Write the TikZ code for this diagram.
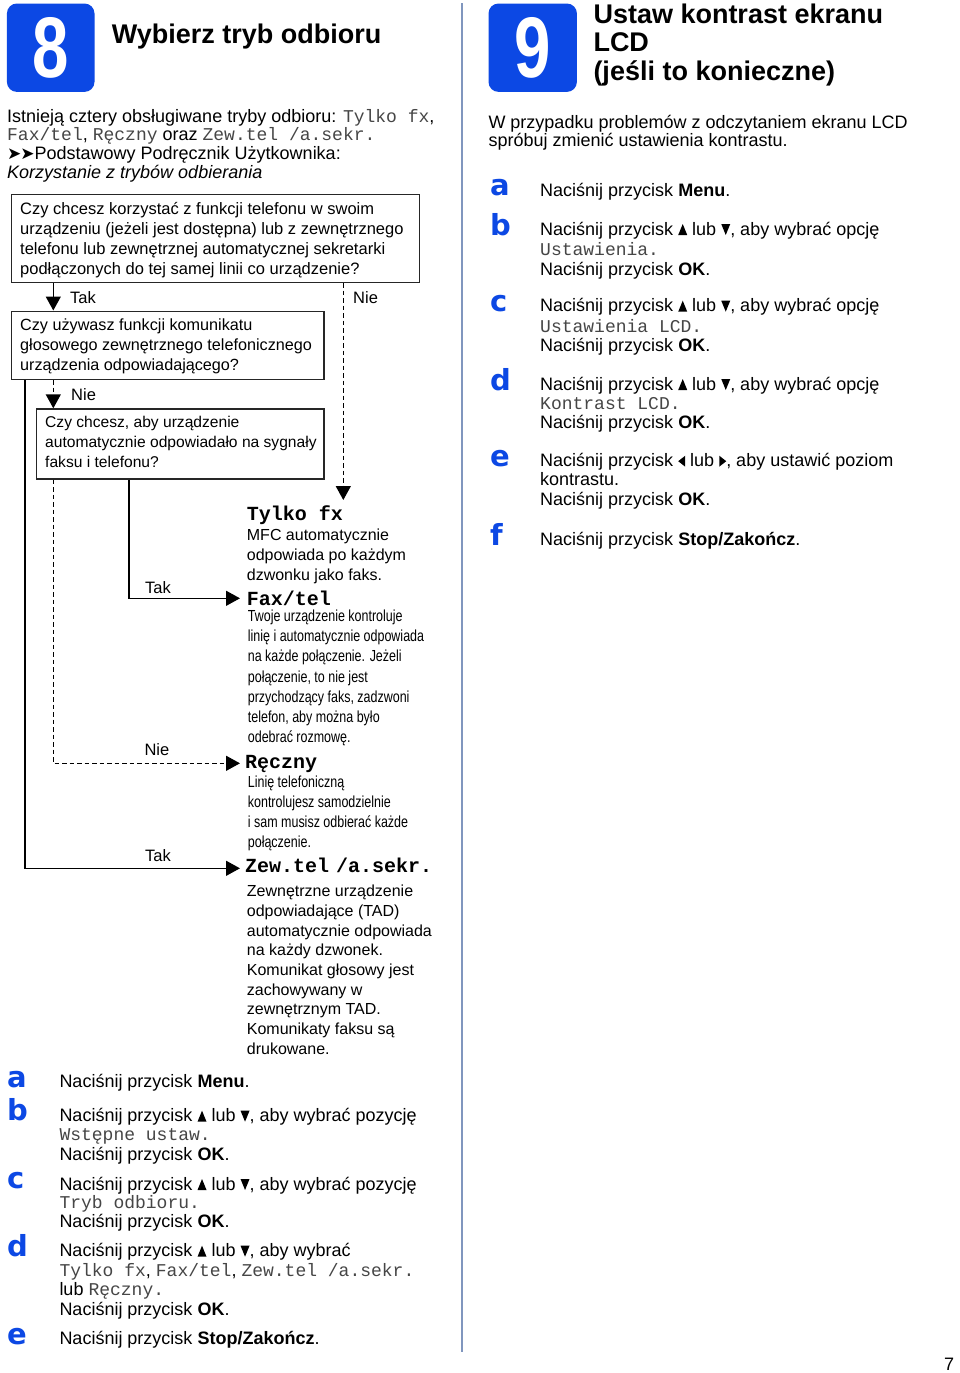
\documentclass[tikz,border=0pt]{standalone}
\usepackage{fontspec}
\usepackage{graphicx}
\setmainfont{Liberation Sans}
\setmonofont{Liberation Mono}
\newfontfamily\djv{DejaVu Sans}
\usetikzlibrary{arrows.meta}
\definecolor{brblue}{RGB}{12,72,228}
\definecolor{divc}{RGB}{128,150,190}
\definecolor{monoc}{RGB}{70,70,70}
\newcommand\mono[1]{{\ttfamily\color{monoc}#1}}
\newcommand\trUp{\tikz[x=1pt,y=1pt,baseline=0pt]\fill (0,0)--(9,0)--(4.5,11)--cycle;}
\newcommand\trDn{\tikz[x=1pt,y=1pt,baseline=0pt]\fill (0,11)--(9,11)--(4.5,0)--cycle;}
\newcommand\trLf{\tikz[x=1pt,y=1pt,baseline=0pt]\fill (7,0)--(7,11)--(0,5.5)--cycle;}
\newcommand\trRt{\tikz[x=1pt,y=1pt,baseline=0pt]\fill (0,0)--(0,11)--(7,5.5)--cycle;}
\newcommand\cond[1]{\scalebox{0.78}[1]{#1}}
\tikzset{
 t18/.style={inner sep=0pt, anchor=base west, font=\fontsize{18}{20}\selectfont},
 tq/.style={inner sep=0pt, anchor=base west, font=\fontsize{16.5}{20}\selectfont},
 tr/.style={inner sep=0pt, anchor=base west, font=\fontsize{16}{20}\selectfont},
 tc/.style={inner sep=0pt, anchor=base west, font=\fontsize{16}{20}\selectfont},
 thead/.style={inner sep=0pt, anchor=base west, font=\fontsize{20}{20}\selectfont\ttfamily\bfseries},
 ttl/.style={inner sep=0pt, anchor=base west, font=\fontsize{27}{29}\selectfont\bfseries},
 lett/.style={inner sep=0pt, anchor=base west, text=brblue, font=\djv\bfseries\fontsize{29}{29}\selectfont},
 numbox/.style={fill=brblue, rounded corners=10pt, anchor=north west, inner sep=0pt},
 digit/.style={text=white, font=\fontsize{86}{86}\selectfont\bfseries, inner sep=0pt},
 qbox/.style={draw=black!85, line width=1.2pt, anchor=north west, inner sep=0pt},
 conn/.style={line width=1.4pt},
 arr/.style={conn, -{Triangle[length=14pt,width=15pt]}},
 dsh/.style={dash pattern=on 4.5pt off 3pt},
 divider/.style={draw=divc, line width=1.8pt}
}
\begin{document}
\begin{tikzpicture}[x=1pt,y=-1pt]
\fill[white] (0,0) rectangle (960,1373);
\useasboundingbox (0,0) rectangle (960,1373);
% divider
\draw[divider] (461.7,3) -- (461.7,1352);

% ===== Step 8 header
\node[numbox, minimum width=87.6pt, minimum height=88.4pt] (n8) at (6.7,3.3) {};
\node[digit] (d8) at (n8.center) {\scalebox{0.76}[1]{8}};
\node[ttl] (h8) at (111.7,43.3) {Wybierz tryb odbioru};

\node[t18] (i1) at (7,122.7) {Istnieją cztery obsługiwane tryby odbioru: \mono{Tylko fx},};
\node[t18] (i2) at (7,140.5) {\mono{Fax/tel}, \mono{Ręczny} oraz \mono{Zew.tel /a.sekr.}};
\node[t18] (i3) at (7,159) {{\djv\fontsize{17}{17}\selectfont ➤\kern-1pt➤}Podstawowy Podręcznik Użytkownika:};
\node[t18] (i4) at (7,178.3) {\itshape Korzystanie z trybów odbierania};

% ===== Flowchart boxes
\node[qbox, minimum width=408pt, minimum height=88pt] (q1) at (11,194) {};
\node[tq] (q1a) at (20,214.3) {Czy chcesz korzystać z funkcji telefonu w swoim};
\node[tq] (q1b) at (20,234.3) {urządzeniu (jeżeli jest dostępna) lub z zewnętrznego};
\node[tq] (q1c) at (20,254.3) {telefonu lub zewnętrznej automatycznej sekretarki};
\node[tq] (q1d) at (20,274.3) {podłączonych do tej samej linii co urządzenie?};

\node[qbox, minimum width=312.3pt, minimum height=68.5pt] (q2) at (11,310.5) {};
\node[tq, font=\fontsize{16.2}{20}\selectfont] (q2a) at (20,330) {Czy używasz funkcji komunikatu};
\node[tq, font=\fontsize{16.2}{20}\selectfont] (q2b) at (20,350) {głosowego zewnętrznego telefonicznego};
\node[tq, font=\fontsize{16.2}{20}\selectfont] (q2c) at (20,370) {urządzenia odpowiadającego?};

\node[qbox, minimum width=287.6pt, minimum height=70pt] (q3) at (35.7,408.3) {};
\node[tq, font=\fontsize{15.6}{20}\selectfont] (q3a) at (45,427.7) {Czy chcesz, aby urządzenie};
\node[tq, font=\fontsize{15.6}{20}\selectfont] (q3b) at (45,447.7) {automatycznie odpowiadało na sygnały};
\node[tq, font=\fontsize{15.6}{20}\selectfont] (q3c) at (45,467.7) {faksu i telefonu?};

% column / target coordinates
\coordinate (cx25) at (25,0);
\coordinate (cx53) at (53.3,0);
\coordinate (cx129) at (129,0);
\coordinate (cx343) at (343.3,0);
\coordinate (tTy) at (343.3,500);
\coordinate (tFx) at (240,598.3);
\coordinate (tRe) at (240,763.3);
\coordinate (tZe) at (240,868.3);

% connectors
\draw[arr] (q1.south -| cx53) -- (q2.north -| cx53);
\draw[arr,dsh] (q1.south -| cx343) -- (tTy);
\draw[arr] (q2.south -| cx25) |- (tZe);
\draw[arr,dsh] (q2.south -| cx53) -- (q3.north -| cx53);
\draw[arr] (q3.south -| cx129) |- (tFx);
\draw[arr,dsh] (q3.south -| cx53) |- (tRe);

% labels
\node[tq] (lt1) at (70,303) {Tak};
\node[tq] (ln1) at (353,303) {Nie};
\node[tq] (ln2) at (71,400) {Nie};
\node[tq] (lt2) at (145,593) {Tak};
\node[tq] (ln3) at (144.3,755.7) {Nie};
\node[tq] (lt3) at (145,861) {Tak};

% results
\node[thead] (r1) at (246.7,520) {Tylko fx};
\node[tr] (r1a) at (246.7,540) {MFC automatycznie};
\node[tr] (r1b) at (246.7,560) {odpowiada po każdym};
\node[tr] (r1c) at (246.7,580) {dzwonku jako faks.};

\node[thead] (r2) at (246.7,605) {Fax/tel};
\node[tc] (r2a) at (247.7,621.7) {\cond{Twoje urządzenie kontroluje}};
\node[tc] (r2b) at (247.7,641.7) {\cond{linię i automatycznie odpowiada}};
\node[tc] (r2c) at (247.7,661.7) {\cond{na każde połączenie. Jeżeli}};
\node[tc] (r2d) at (247.7,682) {\cond{połączenie, to nie jest}};
\node[tc] (r2e) at (247.7,702) {\cond{przychodzący faks, zadzwoni}};
\node[tc] (r2f) at (247.7,722.7) {\cond{telefon, aby można było}};
\node[tc] (r2g) at (247.7,742.3) {\cond{odebrać rozmowę.}};

\node[thead] (r3) at (245,768.3) {Ręczny};
\node[tc] (r3a) at (247.7,787.7) {\cond{Linię telefoniczną}};
\node[tc] (r3b) at (247.7,807.7) {\cond{kontrolujesz samodzielnie}};
\node[tc] (r3c) at (247.7,827.7) {\cond{i sam musisz odbierać każde}};
\node[tc] (r3d) at (247.7,847.7) {\cond{połączenie.}};

\node[thead] (r4) at (245,872.7) {Zew.tel\hspace{-5pt} /a.sekr.};
\node[tr] (r4a) at (246.7,896.7) {Zewnętrzne urządzenie};
\node[tr] (r4b) at (246.7,916.4) {odpowiadające (TAD)};
\node[tr] (r4c) at (246.7,936.1) {automatycznie odpowiada};
\node[tr] (r4d) at (246.7,955.8) {na każdy dzwonek.};
\node[tr] (r4e) at (246.7,975.5) {Komunikat głosowy jest};
\node[tr] (r4f) at (246.7,995.2) {zachowywany w};
\node[tr] (r4g) at (246.7,1014.9) {zewnętrznym TAD.};
\node[tr] (r4h) at (246.7,1034.6) {Komunikaty faksu są};
\node[tr] (r4i) at (246.7,1054.3) {drukowane.};

% ===== Step 8 bottom instructions
\node[lett] (la) at (7,1087) {a};
\node[t18] (la1) at (59.3,1087.3) {Naciśnij przycisk \textbf{Menu}.};
\node[lett] (lb) at (7,1120.5) {b};
\node[t18] (lb1) at (59.3,1121.7) {Naciśnij przycisk \trUp{} lub \trDn, aby wybrać pozycję};
\node[t18] (lb2) at (59.3,1140.7) {\mono{Wstępne ustaw.}};
\node[t18] (lb3) at (59.3,1160) {Naciśnij przycisk \textbf{OK}.};
\node[lett] (lc) at (7,1188.5) {c};
\node[t18] (lc1) at (59.3,1190) {Naciśnij przycisk \trUp{} lub \trDn, aby wybrać pozycję};
\node[t18] (lc2) at (59.3,1208.3) {\mono{Tryb odbioru.}};
\node[t18] (lc3) at (59.3,1227.7) {Naciśnij przycisk \textbf{OK}.};
\node[lett] (ld) at (7,1256.5) {d};
\node[t18] (ld1) at (59.3,1256.7) {Naciśnij przycisk \trUp{} lub \trDn, aby wybrać};
\node[t18] (ld2) at (59.3,1276) {\mono{Tylko fx}, \mono{Fax/tel}, \mono{Zew.tel /a.sekr.}};
\node[t18] (ld3) at (59.3,1295) {lub \mono{Ręczny.}};
\node[t18] (ld4) at (59.3,1315) {Naciśnij przycisk \textbf{OK}.};
\node[lett] (le) at (7,1344) {e};
\node[t18] (le1) at (59.3,1344) {Naciśnij przycisk \textbf{Stop/Zakończ}.};

% ===== Step 9
\node[numbox, minimum width=88.4pt, minimum height=88.4pt] (n9) at (488.3,3.3) {};
\node[digit] (d9) at (n9.center) {\scalebox{0.76}[1]{9}};
\node[ttl] (h9a) at (593.3,23.3) {Ustaw kontrast ekranu};
\node[ttl] (h9b) at (593.3,51.7) {LCD};
\node[ttl] (h9c) at (593.3,80) {(jeśli to konieczne)};

\node[t18] (j1) at (488.3,128.3) {W przypadku problemów z odczytaniem ekranu LCD};
\node[t18] (j2) at (488.3,146.7) {spróbuj zmienić ustawienia kontrastu.};

\node[lett] (ra) at (490,195) {a};
\node[t18] (ra1) at (540,196) {Naciśnij przycisk \textbf{Menu}.};
\node[lett] (rb) at (490,235) {b};
\node[t18] (rb1) at (540,235) {Naciśnij przycisk \trUp{} lub \trDn, aby wybrać opcję};
\node[t18] (rb2) at (540,255) {\mono{Ustawienia.}};
\node[t18] (rb3) at (540,275) {Naciśnij przycisk \textbf{OK}.};
\node[lett] (rc) at (490,311.5) {c};
\node[t18] (rc1) at (540,311.7) {Naciśnij przycisk \trUp{} lub \trDn, aby wybrać opcję};
\node[t18] (rc2) at (540,332.5) {\mono{Ustawienia LCD.}};
\node[t18] (rc3) at (540,351.7) {Naciśnij przycisk \textbf{OK}.};
\node[lett] (rd) at (490,390) {d};
\node[t18] (rd1) at (540,390) {Naciśnij przycisk \trUp{} lub \trDn, aby wybrać opcję};
\node[t18] (rd2) at (540,409.3) {\mono{Kontrast LCD.}};
\node[t18] (rd3) at (540,428.3) {Naciśnij przycisk \textbf{OK}.};
\node[lett] (re) at (490,466) {e};
\node[t18] (re1) at (540,466.7) {Naciśnij przycisk \trLf{} lub \trRt, aby ustawić poziom};
\node[t18] (re2) at (540,485.5) {kontrastu.};
\node[t18] (re3) at (540,505) {Naciśnij przycisk \textbf{OK}.};
\node[lett] (rf) at (490,545) {f};
\node[t18] (rf1) at (540,545) {Naciśnij przycisk \textbf{Stop/Zakończ}.};

% page number
\node[t18] (pg) at (944,1370) {7};
\end{tikzpicture}
\end{document}
